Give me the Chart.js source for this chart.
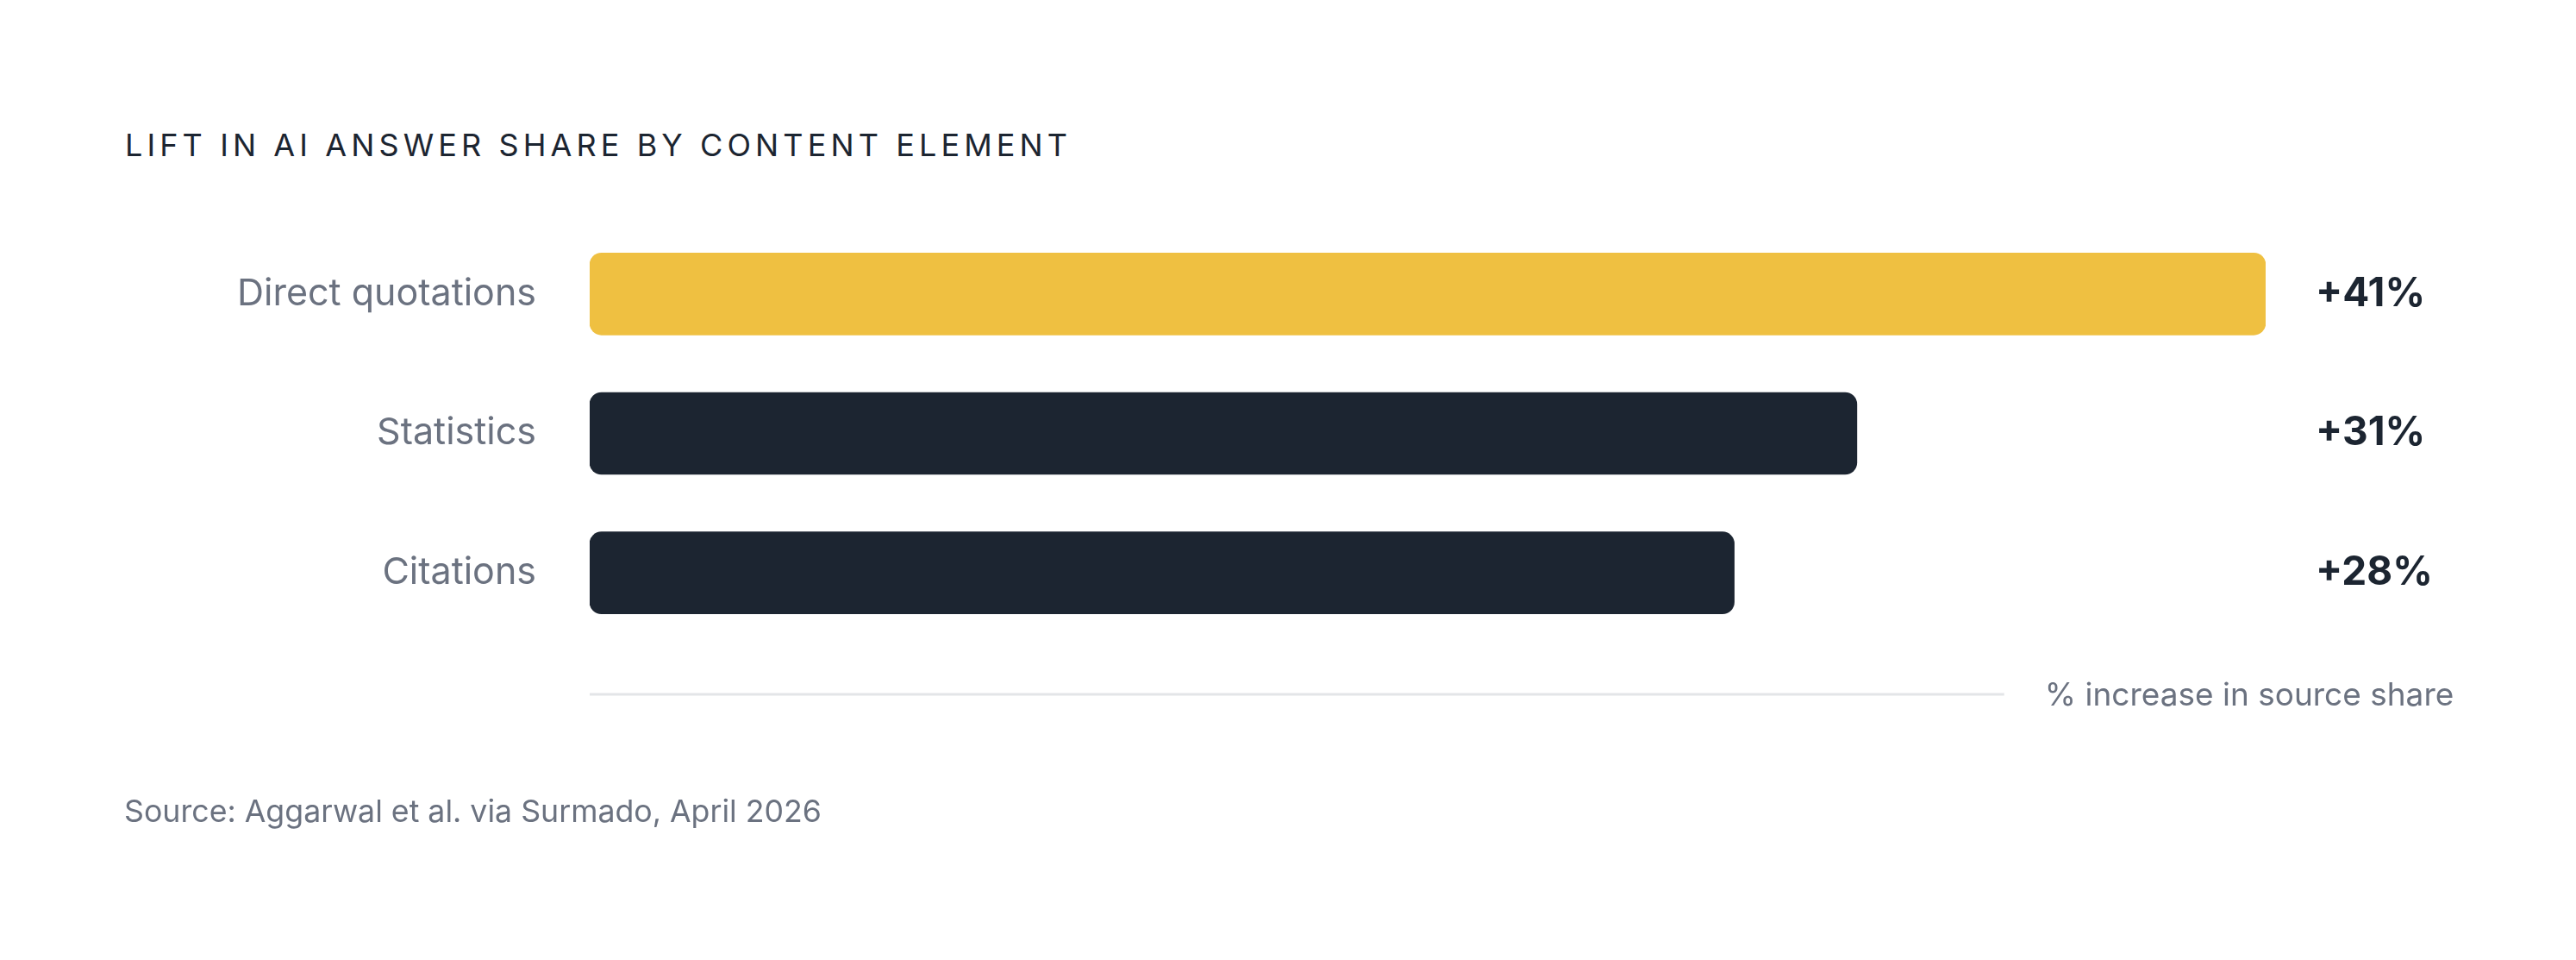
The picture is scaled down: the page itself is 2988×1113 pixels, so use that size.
<!DOCTYPE html>
<html>
<head>
<meta charset="utf-8">
<script src="https://cdn.jsdelivr.net/npm/chart.js@4.4.1/dist/chart.umd.min.js"></script>
<style>
  html, body { margin: 0; padding: 0; background: #ffffff; }
  body { width: 2988px; height: 1113px; position: relative; overflow: hidden; font-family: Inter, "Noto Sans", sans-serif; }
  #title { position: absolute; left: 145px; top: 150px; font-size: 36px; line-height: 36px; letter-spacing: 5.1px; color: #1c2531; font-weight: 400; white-space: nowrap; }
  #source { position: absolute; left: 144px; top: 922px; font-size: 35.7px; line-height: 36px; color: #6b7280; font-weight: 400; white-space: nowrap; }
  #chart { position: absolute; left: 0; top: 0; }
</style>
</head>
<body>
<div id="title">LIFT IN AI ANSWER SHARE BY CONTENT ELEMENT</div>
<canvas id="chart" width="2988" height="1113"></canvas>
<div id="source">Source: Aggarwal et al. via Surmado, April 2026</div>
<script>
const categories = ["Direct quotations", "Statistics", "Citations"];
const liftValues = [41, 31, 28];
const valueLabels = ["+41%", "+31%", "+28%"];
const axisCaption = "% increase in source share";

const HIGHLIGHT = "#efc041";
const NAVY = "#1c2531";

const overlayPlugin = {
  id: "overlay",
  afterDatasetsDraw(chart) {
    const { ctx, chartArea } = chart;
    const meta = chart.getDatasetMeta(0);
    ctx.save();
    // value labels
    ctx.font = "700 46px Inter, 'Noto Sans', sans-serif";
    ctx.fillStyle = NAVY;
    ctx.textAlign = "left";
    ctx.textBaseline = "middle";
    meta.data.forEach((bar, i) => {
      ctx.fillText(valueLabels[i], chartArea.right + 58, bar.y);
    });
    // axis line
    const lineY = chartArea.bottom + 60;
    const lineEnd = chartArea.left + chartArea.width * 0.844;
    ctx.strokeStyle = "#e3e5e8";
    ctx.lineWidth = 3;
    ctx.beginPath();
    ctx.moveTo(chartArea.left, lineY);
    ctx.lineTo(lineEnd, lineY);
    ctx.stroke();
    // axis caption
    ctx.font = "400 37px Inter, 'Noto Sans', sans-serif";
    ctx.fillStyle = "#6b7280";
    ctx.textBaseline = "middle";
    ctx.fillText(axisCaption, lineEnd + 47, lineY + 2);
    ctx.restore();
  }
};

new Chart(document.getElementById("chart"), {
  type: "bar",
  data: {
    labels: categories,
    datasets: [{
      data: liftValues,
      backgroundColor: (c) => c.dataIndex === 0 ? HIGHLIGHT : NAVY,
      borderRadius: 14,
      borderSkipped: false,
      barThickness: 95
    }]
  },
  options: {
    indexAxis: "y",
    responsive: false,
    devicePixelRatio: 1,
    animation: false,
    layout: { padding: { left: 0, right: 360, top: 260, bottom: 368 } },
    plugins: { legend: { display: false }, tooltip: { enabled: false }, title: { display: false } },
    scales: {
      x: { min: 0, max: 41, display: false },
      y: {
        grid: { display: false, drawTicks: false },
        border: { display: false },
        ticks: {
          padding: 62,
          color: "#6b7280",
          font: { family: "Inter, 'Noto Sans', sans-serif", size: 43, weight: "400" }
        },
        afterFit(scale) { scale.width = 684; }
      }
    }
  },
  plugins: [overlayPlugin]
});
</script>
</body>
</html>
